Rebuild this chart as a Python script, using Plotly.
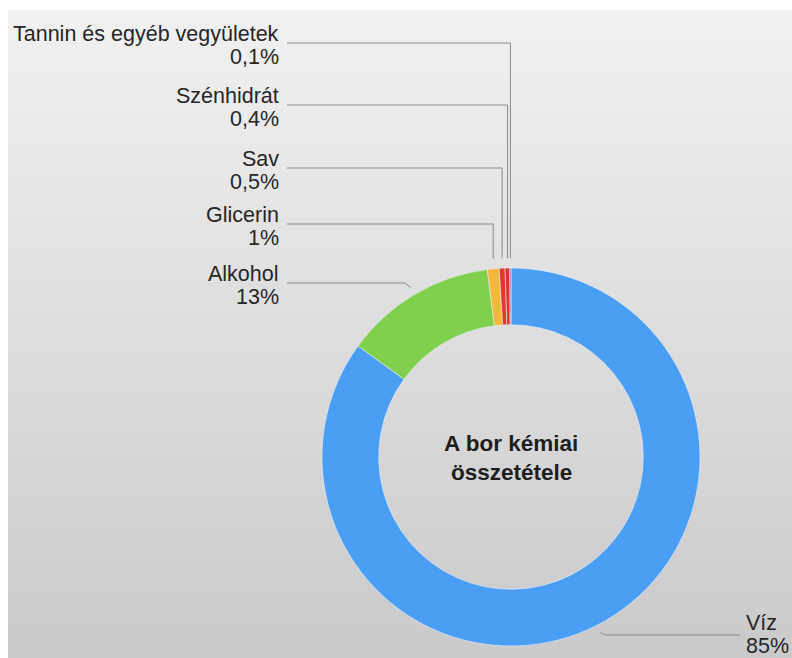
import math
import plotly.graph_objects as go

# --- data ---
labels = ["Víz", "Alkohol", "Glicerin", "Sav", "Szénhidrát", "Tannin és egyéb vegyületek"]
values = [85, 13, 1, 0.5, 0.4, 0.1]
colors = ["#4a9ff5", "#7fd04c", "#f5b83a", "#e2392f", "#d9352c", "#8c5fc4"]
title_lines = ["A bor kémiai", "összetétele"]

# --- page geometry (pixels) ---
W, H = 792, 658
CX, CY = 511, 457          # donut centre
R = 189                    # outer radius
HOLE = 0.70


def px(x):
    return x / W


def py(y):
    return 1 - y / H


def pct_text(v):
    return f"{v:g}".replace(".", ",") + "%"


# slice mid angles, clockwise from 12 o'clock
total = sum(values)
mids = []
acc = 0.0
for v in values:
    mids.append((acc + v / 2) / total * 360.0)
    acc += v


def ring_point(angle_deg, r):
    a = math.radians(angle_deg)
    return CX + r * math.sin(a), CY - r * math.cos(a)


fig = go.Figure()
fig.add_trace(go.Pie(
    labels=labels,
    values=values,
    sort=False,
    direction="clockwise",
    rotation=0,
    hole=HOLE,
    marker=dict(colors=colors, line=dict(color="rgba(235,240,250,0.7)", width=0.8)),
    textinfo="none",
    hoverinfo="skip",
    showlegend=False,
    domain=dict(x=[px(CX - R), px(CX + R)], y=[py(CY + R), py(CY - R)]),
))

shapes = []
# soft vertical grey gradient background, leaving a thin white border top/left
N = 60
top_c, bot_c = (241, 241, 241), (202, 202, 202)
y0, y1 = 10, H
for i in range(N):
    t = i / (N - 1)
    c = tuple(round(top_c[k] + (bot_c[k] - top_c[k]) * t) for k in range(3))
    ya = y0 + (y1 - y0) * i / N
    yb = y0 + (y1 - y0) * (i + 1) / N + 0.5
    shapes.append(dict(type="rect", xref="paper", yref="paper",
                       x0=px(8), x1=1, y0=py(yb), y1=py(ya),
                       fillcolor=f"rgb{c}", line=dict(width=0), layer="below"))

line_style = dict(color="#8a8a8a", width=1)
annotations = []
font = dict(family="Liberation Sans, Arial, sans-serif", size=21.5, color="#262626")

# left-side labels (small slices + Alkohol), stacked from the top
left_rows = {  # slice index -> y of the leader's horizontal run
    5: 43, 4: 105, 3: 168, 2: 224, 1: 283,
}
LABEL_RIGHT = 281
LINE_LEFT = 287
for idx, ly in left_rows.items():
    ang = mids[idx]
    if idx == 1:
        ex, ey = ring_point(ang, R + 8)
        pts = [(LINE_LEFT, ly), (ex - 6, ly), (ex, ey)]
    else:
        ex, ey = ring_point(ang, R)
        pts = [(LINE_LEFT, ly), (ex, ly), (ex, ey - 10)]
    path = "M " + " L ".join(f"{px(x)},{py(y)}" for x, y in pts)
    shapes.append(dict(type="path", xref="paper", yref="paper", path=path, line=line_style))
    annotations.append(dict(x=px(LABEL_RIGHT), y=py(ly - 9), xref="paper", yref="paper",
                            text=labels[idx], showarrow=False, xanchor="right",
                            yanchor="middle", font=font))
    annotations.append(dict(x=px(LABEL_RIGHT), y=py(ly + 14), xref="paper", yref="paper",
                            text=pct_text(values[idx]), showarrow=False, xanchor="right",
                            yanchor="middle", font=font))

# right-side label for the largest slice
ang = mids[0]
ex, ey = ring_point(ang, R + 8)
ly = 635
pts = [(ex, ey), (ex + 5, ly), (740, ly)]
path = "M " + " L ".join(f"{px(x)},{py(y)}" for x, y in pts)
shapes.append(dict(type="path", xref="paper", yref="paper", path=path, line=line_style))
annotations.append(dict(x=px(744), y=py(ly - 12), xref="paper", yref="paper",
                        text=labels[0], showarrow=False, xanchor="left",
                        yanchor="middle", font=font))
annotations.append(dict(x=px(744), y=py(ly + 11), xref="paper", yref="paper",
                        text=pct_text(values[0]), showarrow=False, xanchor="left",
                        yanchor="middle", font=font))

# title inside the hole
title_font = dict(family="Liberation Sans, Arial, sans-serif", size=22.5, color="#1e1e1e")
for i, t in enumerate(title_lines):
    annotations.append(dict(x=px(CX), y=py(443 + 29 * i), xref="paper", yref="paper",
                            text=f"<b>{t}</b>", showarrow=False, xanchor="center",
                            yanchor="middle", font=title_font))

fig.update_layout(
    width=W, height=H,
    margin=dict(l=0, r=0, t=0, b=0),
    paper_bgcolor="white",
    plot_bgcolor="white",
    shapes=shapes,
    annotations=annotations,
)

fig.write_html("out.html")
